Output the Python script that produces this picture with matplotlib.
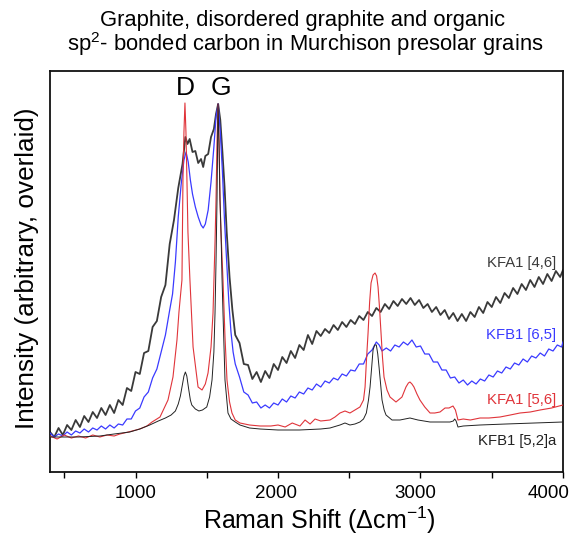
import matplotlib
matplotlib.use("Agg")
import matplotlib.pyplot as plt
from matplotlib.transforms import ScaledTranslation

plt.rcParams['font.family'] = ['Liberation Sans', 'DejaVu Sans']
plt.rcParams['mathtext.fontset'] = 'custom'
plt.rcParams['mathtext.rm'] = 'Liberation Sans'
plt.rcParams['mathtext.it'] = 'Liberation Sans:italic'

# ---------------- data (Raman shift in cm^-1, intensity arbitrary, overlaid) ----------------
kfa1_46_x = [400, 430, 460, 490, 520, 550, 580, 610, 640, 670, 700, 730, 760, 790, 820, 850,
             880, 910, 940, 970, 1000, 1030, 1060, 1090, 1120, 1150, 1180, 1210, 1240, 1270,
             1300, 1330, 1350, 1365, 1380, 1400, 1420, 1440, 1460, 1475, 1490, 1510, 1530,
             1550, 1565, 1580, 1595, 1610, 1625, 1640, 1660, 1680, 1700, 1730, 1760, 1790,
             1820, 1850, 1880, 1910, 1940, 1970, 2000, 2030, 2060, 2090, 2120, 2150, 2180,
             2210, 2240, 2270, 2300, 2330, 2360, 2390, 2420, 2450, 2480, 2510, 2540, 2570,
             2600, 2630, 2660, 2690, 2720, 2750, 2780, 2810, 2840, 2870, 2900, 2930, 2960,
             2990, 3020, 3050, 3080, 3110, 3140, 3170, 3200, 3230, 3260, 3290, 3320, 3350,
             3380, 3410, 3440, 3470, 3500, 3530, 3560, 3590, 3620, 3650, 3680, 3710, 3740,
             3770, 3800, 3830, 3860, 3890, 3920, 3950, 3980, 4000]
kfa1_46_y = [40, 35, 44, 37, 47, 42, 52, 45, 56, 50, 60, 54, 64, 57, 67, 59,
             72, 67, 84, 81, 100, 98, 119, 121, 145, 151, 175, 187, 228, 252,
             284, 308, 335, 328, 333, 320, 321, 309, 313, 305, 316, 318, 335,
             343, 358, 368, 352, 320, 285, 240, 195, 162, 137, 129, 108, 107,
             93, 100, 90, 101, 94, 108, 102, 115, 109, 121, 114, 127, 122,
             137, 128, 141, 136, 143, 139, 147, 142, 150, 145, 152, 148, 156,
             152, 160, 156, 164, 160, 168, 163, 171, 166, 173, 168, 174, 167,
             172, 164, 168, 160, 165, 157, 162, 153, 159, 151, 158, 151, 160,
             155, 165, 159, 170, 165, 175, 169, 179, 174, 184, 178, 188, 182,
             192, 185, 195, 188, 198, 191, 201, 195, 202]

kfb1_65_x = [400, 430, 460, 490, 520, 550, 580, 610, 640, 670, 700, 730, 760, 790, 820, 850,
             880, 910, 940, 970, 1000, 1030, 1060, 1090, 1120, 1150, 1180, 1210, 1240, 1260,
             1280, 1300, 1320, 1340, 1355, 1370, 1385, 1400, 1420, 1440, 1460, 1475, 1490,
             1510, 1530, 1550, 1565, 1580, 1595, 1610, 1625, 1640, 1655, 1670, 1685, 1700,
             1730, 1760, 1790, 1820, 1850, 1880, 1910, 1940, 1970, 2000, 2030, 2060, 2090,
             2120, 2150, 2180, 2210, 2240, 2270, 2300, 2330, 2360, 2390, 2420, 2450, 2480,
             2510, 2540, 2570, 2600, 2630, 2660, 2690, 2710, 2730, 2760, 2790, 2820, 2850,
             2880, 2910, 2940, 2970, 3000, 3030, 3060, 3090, 3120, 3150, 3180, 3210, 3240,
             3270, 3300, 3330, 3360, 3390, 3420, 3450, 3480, 3510, 3540, 3570, 3600, 3630,
             3660, 3690, 3720, 3750, 3780, 3810, 3840, 3870, 3900, 3930, 3960, 3990, 4000]
kfb1_65_y = [39, 35, 38, 36, 40, 37, 41, 39, 43, 40, 44, 42, 46, 43, 47, 44,
             48, 47, 53, 53, 61, 64, 75, 80, 94, 103, 120, 137, 162, 178,
             210, 255, 287, 312, 320, 310, 292, 278, 265, 255, 247, 244, 248,
             262, 290, 325, 355, 368, 340, 300, 250, 210, 170, 140, 120, 108,
             95, 80, 77, 69, 70, 64, 67, 64, 69, 67, 73, 70, 76,
             74, 80, 78, 84, 82, 88, 85, 91, 89, 94, 92, 98, 96,
             102, 101, 108, 108, 118, 122, 130, 127, 121, 124, 121, 127, 125,
             130, 127, 132, 125, 126, 118, 118, 110, 110, 102, 102, 94, 95,
             89, 92, 87, 91, 88, 93, 91, 97, 95, 101, 99, 105, 103,
             109, 107, 113, 110, 116, 114, 119, 116, 123, 121, 127, 125, 130]

kfa1_56_x = [400, 450, 500, 550, 600, 650, 700, 750, 800, 850, 890, 950, 1030, 1080, 1116,
             1172, 1228, 1263, 1291, 1305, 1318, 1326, 1333, 1340, 1347, 1354, 1361, 1368,
             1382, 1404, 1439, 1467, 1490, 1509, 1530, 1544, 1558, 1565, 1572, 1579, 1586,
             1593, 1600, 1614, 1628, 1642, 1660, 1677, 1700, 1733, 1800, 1874, 1950, 2000,
             2050, 2100, 2154, 2190, 2225, 2260, 2300, 2365, 2400, 2435, 2470, 2505, 2540,
             2575, 2600, 2611, 2620, 2632, 2643, 2653, 2667, 2681, 2692, 2702, 2712, 2723,
             2733, 2744, 2765, 2786, 2828, 2870, 2898, 2915, 2926, 2940, 2954, 2975, 2996,
             3030, 3067, 3100, 3137, 3172, 3200, 3228, 3245, 3263, 3300, 3350, 3418, 3480,
             3558, 3630, 3698, 3770, 3839, 3920, 4000]
kfa1_56_y = [36, 33, 37, 34, 36, 34, 37, 35, 37, 36, 38, 40, 43, 46, 50,
             55, 72, 95, 132, 160, 180, 192, 292, 340, 369, 340, 292, 240,
             192, 125, 85, 82, 88, 99, 125, 159, 230, 272, 330, 368, 330,
             272, 240, 192, 135, 92, 70, 59, 52, 49, 47, 46, 46, 47,
             45, 49, 46, 52, 48, 53, 51, 52, 55, 59, 61, 59, 62,
             65, 72, 85, 110, 139, 170, 189, 197, 199, 196, 185, 165, 139,
             115, 95, 82, 75, 70, 75, 85, 89, 90, 88, 85, 78, 72,
             65, 59, 59, 60, 64, 64, 66, 62, 52, 53, 52, 54, 54,
             55, 57, 59, 60, 62, 64, 67]

kfb1_52a_x = [400, 500, 600, 750, 850, 960, 1030, 1100, 1160, 1210, 1250, 1280, 1300, 1315,
              1330, 1340, 1350, 1360, 1372, 1385, 1395, 1420, 1445, 1470, 1500, 1520, 1537,
              1550, 1558, 1565, 1572, 1579, 1586, 1593, 1600, 1607, 1614, 1628, 1649, 1670,
              1700, 1733, 1800, 1874, 2000, 2150, 2300, 2365, 2435, 2470, 2505, 2540, 2575,
              2600, 2620, 2635, 2646, 2657, 2667, 2678, 2690, 2700, 2709, 2720, 2730, 2745,
              2758, 2800, 2856, 2926, 2982, 3067, 3150, 3207, 3230, 3240, 3250, 3263, 3300,
              3418, 3600, 3800, 4000]
kfb1_52a_y = [35, 35, 35, 36, 38, 40, 43, 47, 51, 54, 57, 61, 68, 76,
              88, 96, 100, 96, 84, 72, 67, 63, 61, 62, 65, 75, 92,
              120, 159, 210, 272, 368, 330, 272, 240, 195, 159, 92, 59, 53,
              50, 47, 44, 43, 42, 42, 43, 44, 47, 49, 47, 48, 50,
              53, 59, 72, 85, 104, 122, 127, 127, 118, 105, 88, 72, 62,
              57, 52, 52, 54, 52, 50, 50, 50, 51, 53, 51, 45, 46,
              47, 48, 49, 50]

series_labels = ["KFA1 [4,6]", "KFB1 [6,5]", "KFA1 [5,6]", "KFB1 [5,2]a"]
series_colors = ["#3a3a3a", "#3a3aff", "#e0343a", "#222222"]
label_y = [209, 137, 72, 31]

x_ticks = [500, 1000, 1500, 2000, 2500, 3000, 3500, 4000]
x_ticklabels = ["", "1000", "", "2000", "", "3000", "", "4000"]
label_shift_px = [0, 0, 0, -2, 0, -5, 0, -14]

# ---------------- figure ----------------
fig = plt.figure(figsize=(5.73, 5.37), dpi=100)
ax = fig.add_axes([50 / 573, 1 - 472 / 537, 513 / 573, 401 / 537])

ax.plot(kfa1_46_x, kfa1_46_y, color=series_colors[0], lw=1.3, zorder=2)
ax.plot(kfb1_65_x, kfb1_65_y, color=series_colors[1], lw=0.9, zorder=3)
ax.plot(kfa1_56_x, kfa1_56_y, color=series_colors[2], lw=0.8, zorder=4)
ax.plot(kfb1_52a_x, kfb1_52a_y, color=series_colors[3], lw=0.7, zorder=5)

for lab, col, yy in zip(series_labels, series_colors, label_y):
    ax.text(3951, yy, lab, color=col, ha='right', va='center', fontsize=10.7)

ax.text(1347, 384, "D", ha='center', va='center', fontsize=19)
ax.text(1597, 384, "G", ha='center', va='center', fontsize=19)

ax.set_xlim(400, 4000)
ax.set_ylim(0, 401)
ax.set_yticks([])
ax.set_xticks(x_ticks)
ax.set_xticklabels(x_ticklabels, fontsize=13.5)
ax.tick_params(axis='x', direction='out', length=4, width=1.0, pad=5)
for lbl, dx in zip(ax.get_xticklabels(), label_shift_px):
    lbl.set_transform(lbl.get_transform() + ScaledTranslation(dx / 100, 0, fig.dpi_scale_trans))
for s in ax.spines.values():
    s.set_linewidth(1.3)
    s.set_color('#111111')

fig.text(303 / 573, 1 - 26 / 537, "Graphite, disordered graphite and organic",
         ha='center', va='baseline', fontsize=15.8)
fig.text(305 / 573, 1 - 51 / 537, "sp$^{2}$- bonded carbon in Murchison presolar grains",
         ha='center', va='baseline', fontsize=15.8)
fig.text(27 / 573, 1 - 268 / 537, "Intensity (arbitrary, overlaid)", rotation=90,
         ha='center', va='center', fontsize=18.8)
fig.text(319 / 573, 1 - 520 / 537, "Raman Shift ($\\Delta$cm$^{-1}$)",
         ha='center', va='center', fontsize=18)

fig.savefig("out.png", dpi=100)
